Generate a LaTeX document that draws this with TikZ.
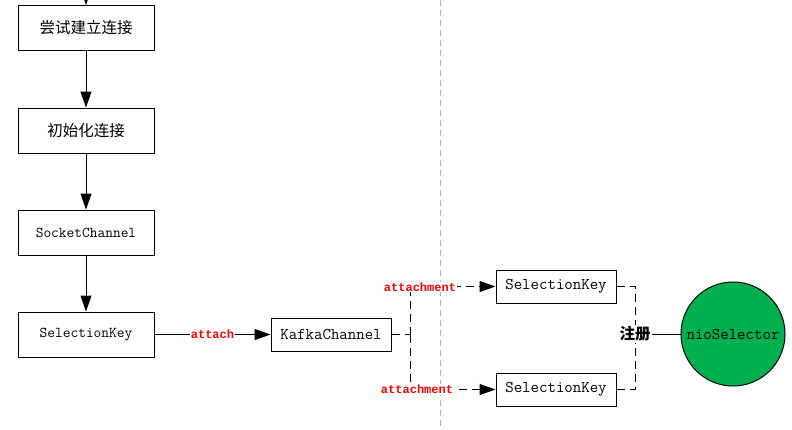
\documentclass[tikz,border=0pt]{standalone}
\usepackage{fontspec}
\newfontfamily\redfont{Liberation Mono}
\newfontfamily\cjk{Noto Sans CJK SC}
\usetikzlibrary{arrows.meta}
\definecolor{nioGreen}{HTML}{00B050}
\tikzset{
  box/.style={draw=black, line width=1pt, fill=white, minimum width=136pt, minimum height=45pt, inner sep=0pt},
  smallbox/.style={draw=black, line width=1pt, fill=white, minimum width=120pt, minimum height=33pt, inner sep=0pt},
  tip/.style={-{Triangle[length=16pt,width=11pt]}},
  arr/.style={line width=1pt, tip},
  dsh/.style={line width=1pt, dash pattern=on 8pt off 5pt},
  redlab/.style={text=red, fill=white, font=\redfont\bfseries\fontsize{12}{13}\selectfont, inner sep=1pt},
  cnlab/.style={font=\cjk\fontsize{15.5}{17}\selectfont},
  monoL/.style={font=\ttfamily\fontsize{15}{17}\selectfont},
  monoR/.style={font=\ttfamily\fontsize{16.4}{18}\selectfont}
}
\begin{document}
\begin{tikzpicture}[x=1pt,y=-1pt]
\useasboundingbox (0,0) rectangle (792,429);
\clip (0,0) rectangle (792,429);
% separator
\coordinate (sepT) at (440,0);
\coordinate (sepB) at (440,429);
\draw[gray!60, line width=1pt, dash pattern=on 6pt off 4pt] (sepT) -- (sepB);
% left column
\node[box, cnlab] (b1) at (86,28) {尝试建立连接};
\node[box, cnlab] (b2) at (86,130.5) {初始化连接};
\node[box, monoL] (b3) at (86,232.5) {SocketChannel};
\node[box, monoL] (b4) at (86,334.5) {SelectionKey};
\coordinate (above) at (86,-30);
\draw[arr] (above) -- (b1.north);
\draw[arr] (b1) -- (b2);
\draw[arr] (b2) -- (b3);
\draw[arr] (b3) -- (b4);
% middle
\node[smallbox, monoR] (kc) at (331,334.5) {KafkaChannel};
\node[smallbox, monoR] (sk1) at (556,286.5) {SelectionKey};
\node[smallbox, monoR] (sk2) at (556,389.5) {SelectionKey};
\draw[arr] (b4) -- node[redlab] (att) {attach} (kc);
\coordinate (j) at (410,334.5);
\draw[dsh] (kc.east) -- (j);
\draw[dsh, tip] (j) |- (sk1.west);
\draw[dsh, tip] (j) |- (sk2.west);
\node[redlab] (a1) at (420,287) {attachment};
\node[redlab] (a2) at (417,389.5) {attachment};
% right
\node[circle, draw=black, line width=1pt, fill=nioGreen, minimum size=104pt, inner sep=0pt, monoR] (nio) at (733,334) {nioSelector};
\node[font=\cjk\bfseries\fontsize{15.5}{17}\selectfont, fill=white, inner sep=1pt] (reg) at (635,334) {注册};
\draw[dsh] (sk1.east) -| (reg.north);
\draw[dsh] (sk2.east) -| (reg.south);
\draw[line width=1pt] (reg.east) -- (nio.west);
\end{tikzpicture}
\end{document}
